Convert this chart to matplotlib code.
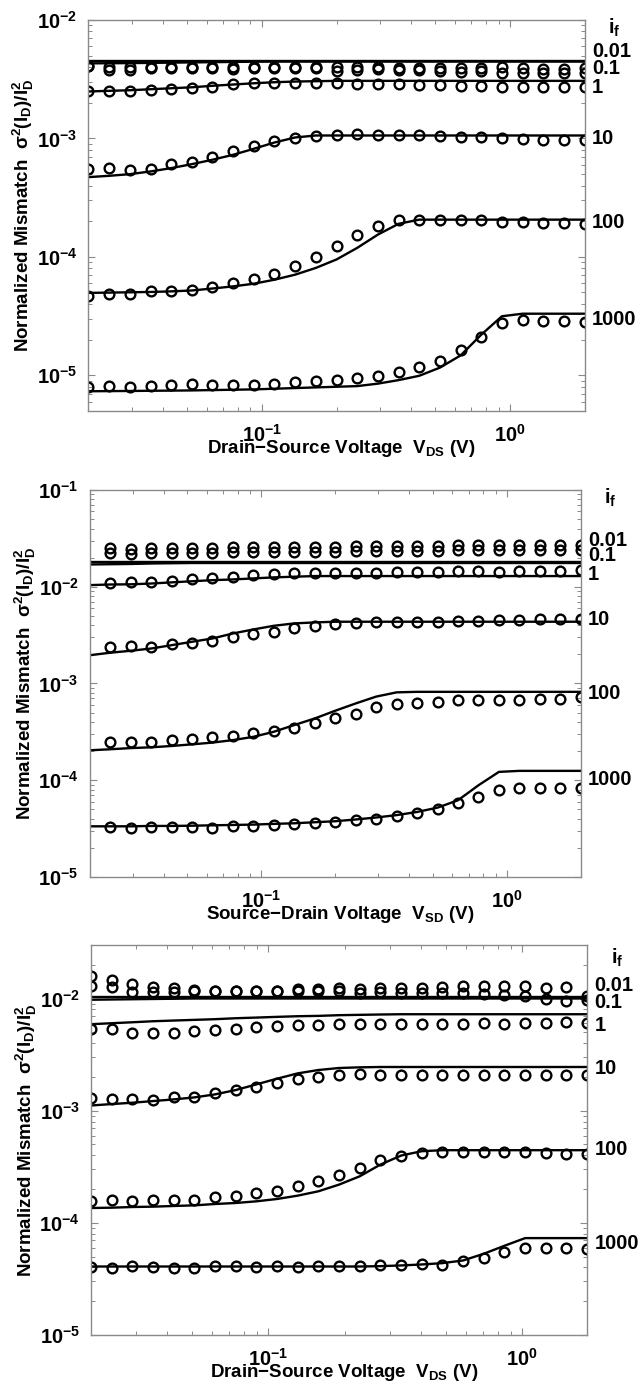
# Normalized drain-current mismatch vs. V_DS / V_SD, three stacked panels.

import matplotlib.pyplot as plt
from matplotlib import ticker
import numpy as np

plt.rcParams['font.family'] = ['Liberation Sans', 'DejaVu Sans']
plt.rcParams['font.weight'] = 'bold'
plt.rcParams['axes.labelweight'] = 'bold'
plt.rcParams['mathtext.default'] = 'regular'

inv_levels = ["0.01", "0.1", "1", "10", "100", "1000"]

# bias points (V), panels 1 and 2
vds = [0.02, 0.0242, 0.0294, 0.0356, 0.0431, 0.0522, 0.0632, 0.0766, 0.0928,
       0.1124, 0.1362, 0.165, 0.2, 0.2423, 0.2935, 0.3557, 0.4309, 0.522,
       0.6325, 0.7663, 0.9283, 1.1247, 1.3626, 1.6508, 2.0]
# bias points (V), panel 3
vds3 = [0.02, 0.0241, 0.0291, 0.0351, 0.0423, 0.0511, 0.0616, 0.0743, 0.0896,
        0.1081, 0.1304, 0.1573, 0.1897, 0.2289, 0.2761, 0.333, 0.4017, 0.4845,
        0.5844, 0.7049, 0.8503, 1.0257, 1.2372, 1.4923, 1.8]

# ---- panel 1 : nMOS, Drain-Source ----
p1_meas_001 = [4.12e-3, 3.99e-3, 3.99e-3, 3.99e-3, 3.99e-3, 4.04e-3, 3.99e-3, 3.99e-3, 3.99e-3,
               3.99e-3, 3.99e-3, 3.99e-3, 3.99e-3, 3.99e-3, 3.99e-3, 3.91e-3, 3.91e-3, 3.91e-3,
               3.91e-3, 3.91e-3, 3.99e-3, 3.91e-3, 3.84e-3, 3.84e-3, 3.91e-3]
p1_meas_01 = [4.07e-3, 3.79e-3, 3.79e-3, 3.91e-3, 3.91e-3, 3.91e-3, 3.91e-3, 3.84e-3, 3.91e-3,
              3.91e-3, 3.91e-3, 3.91e-3, 3.74e-3, 3.79e-3, 3.84e-3, 3.79e-3, 3.79e-3, 3.74e-3,
              3.67e-3, 3.74e-3, 3.59e-3, 3.59e-3, 3.59e-3, 3.55e-3, 3.55e-3]
p1_meas_1 = [2.49e-3, 2.49e-3, 2.49e-3, 2.57e-3, 2.60e-3, 2.65e-3, 2.74e-3, 2.89e-3, 2.92e-3,
             2.92e-3, 2.96e-3, 2.92e-3, 2.92e-3, 2.89e-3, 2.89e-3, 2.87e-3, 2.83e-3, 2.83e-3,
             2.79e-3, 2.78e-3, 2.74e-3, 2.74e-3, 2.70e-3, 2.70e-3, 2.69e-3]
p1_meas_10 = [5.50e-4, 5.61e-4, 5.43e-4, 5.50e-4, 6.07e-4, 6.38e-4, 6.95e-4, 7.76e-4, 8.56e-4,
              9.42e-4, 1.004e-3, 1.052e-3, 1.072e-3, 1.08e-3, 1.065e-3, 1.065e-3, 1.058e-3, 1.052e-3,
              1.037e-3, 1.019e-3, 1.004e-3, 0.986e-3, 0.973e-3, 0.973e-3, 0.960e-3]
p1_meas_100 = [4.65e-5, 4.86e-5, 4.86e-5, 5.11e-5, 5.18e-5, 5.28e-5, 5.53e-5, 6.01e-5, 6.50e-5,
               7.16e-5, 8.32e-5, 9.91e-5, 1.226e-4, 1.537e-4, 1.832e-4, 2.03e-4, 2.06e-4, 2.06e-4,
               2.06e-4, 2.06e-4, 1.95e-4, 1.95e-4, 1.93e-4, 1.92e-4, 1.89e-4]
p1_meas_1000 = [7.98e-6, 8.08e-6, 7.98e-6, 8.18e-6, 8.35e-6, 8.5e-6, 8.35e-6, 8.35e-6, 8.35e-6,
                8.5e-6, 8.8e-6, 8.9e-6, 9.08e-6, 9.5e-6, 9.94e-6, 1.06e-5, 1.18e-5, 1.33e-5,
                1.65e-5, 2.09e-5, 2.77e-5, 2.91e-5, 2.86e-5, 2.86e-5, 2.82e-5]

p1_model_001 = [4.48e-3] * 25
p1_model_01 = [4.30e-3, 4.31e-3, 4.32e-3, 4.34e-3, 4.36e-3, 4.38e-3, 4.40e-3, 4.42e-3, 4.44e-3] + [4.45e-3] * 16
p1_model_1 = [2.49e-3, 2.52e-3, 2.55e-3, 2.60e-3, 2.65e-3, 2.70e-3, 2.78e-3, 2.85e-3, 2.92e-3,
              2.98e-3, 3.02e-3, 3.04e-3] + [3.06e-3] * 13
p1_model_10 = [4.71e-4, 4.83e-4, 4.99e-4, 5.26e-4, 5.61e-4, 6.06e-4, 6.60e-4, 7.27e-4, 8.17e-4,
               9.23e-4, 1.018e-3, 1.058e-3] + [1.058e-3] * 13
p1_model_100 = [4.96e-5, 4.99e-5, 5.02e-5, 5.05e-5, 5.11e-5, 5.2e-5, 5.4e-5, 5.63e-5, 5.93e-5,
                6.41e-5, 7.07e-5, 8.06e-5, 9.5e-5, 1.19e-4, 1.54e-4, 1.9e-4] + [2.06e-4] * 9
p1_model_1000 = [7.33e-6, 7.35e-6, 7.37e-6, 7.40e-6, 7.42e-6, 7.45e-6, 7.50e-6, 7.55e-6, 7.60e-6,
                 7.70e-6, 7.80e-6, 7.90e-6, 8.0e-6, 8.1e-6, 8.5e-6, 9.1e-6, 9.9e-6, 1.16e-5,
                 1.47e-5, 2.2e-5, 3.15e-5] + [3.31e-5] * 4

# ---- panel 2 : pMOS, Source-Drain (measured from the 2nd bias point) ----
p2_meas_001 = [2.492e-2, 2.433e-2, 2.492e-2, 2.492e-2, 2.532e-2, 2.532e-2, 2.593e-2, 2.593e-2,
               2.593e-2, 2.593e-2, 2.593e-2, 2.593e-2, 2.635e-2, 2.635e-2, 2.635e-2, 2.635e-2,
               2.635e-2, 2.677e-2, 2.677e-2, 2.677e-2, 2.70e-2, 2.70e-2, 2.70e-2, 2.72e-2]
p2_meas_01 = [2.212e-2, 2.177e-2, 2.212e-2, 2.212e-2, 2.247e-2, 2.247e-2, 2.302e-2, 2.302e-2,
              2.302e-2, 2.302e-2, 2.302e-2, 2.302e-2, 2.339e-2, 2.339e-2, 2.339e-2, 2.339e-2,
              2.339e-2, 2.376e-2, 2.376e-2, 2.376e-2, 2.395e-2, 2.395e-2, 2.395e-2, 2.414e-2]
p2_meas_1 = [1.10e-2, 1.11e-2, 1.117e-2, 1.145e-2, 1.19e-2, 1.22e-2, 1.27e-2, 1.32e-2, 1.34e-2,
             1.375e-2, 1.375e-2, 1.40e-2, 1.40e-2, 1.40e-2, 1.41e-2, 1.41e-2, 1.43e-2, 1.465e-2,
             1.44e-2, 1.43e-2, 1.465e-2, 1.44e-2, 1.45e-2, 1.49e-2]
p2_meas_10 = [2.36e-3, 2.43e-3, 2.39e-3, 2.55e-3, 2.64e-3, 2.76e-3, 2.99e-3, 3.21e-3, 3.37e-3,
              3.71e-3, 3.92e-3, 4.08e-3, 4.18e-3, 4.28e-3, 4.28e-3, 4.35e-3, 4.35e-3, 4.45e-3,
              4.45e-3, 4.52e-3, 4.52e-3, 4.59e-3, 4.59e-3, 4.59e-3]
p2_meas_100 = [2.49e-4, 2.49e-4, 2.49e-4, 2.60e-4, 2.70e-4, 2.81e-4, 2.88e-4, 3.09e-4, 3.21e-4,
               3.48e-4, 3.86e-4, 4.35e-4, 4.89e-4, 5.65e-4, 6.11e-4, 6.31e-4, 6.46e-4, 6.73e-4,
               6.73e-4, 6.83e-4, 6.83e-4, 6.99e-4, 6.99e-4, 7.17e-4]
p2_meas_1000 = [3.29e-5, 3.24e-5, 3.29e-5, 3.29e-5, 3.29e-5, 3.24e-5, 3.34e-5, 3.37e-5, 3.42e-5,
                3.51e-5, 3.62e-5, 3.71e-5, 3.86e-5, 4.01e-5, 4.24e-5, 4.59e-5, 5.09e-5, 5.83e-5,
                6.73e-5, 7.89e-5, 8.34e-5, 8.34e-5, 8.40e-5, 8.40e-5]

p2_model_001 = [1.82e-2] * 25
p2_model_01 = [1.70e-2, 1.71e-2, 1.72e-2, 1.74e-2, 1.75e-2] + [1.76e-2] * 20
p2_model_1 = [1.04e-2, 1.055e-2, 1.06e-2, 1.08e-2, 1.11e-2, 1.14e-2, 1.17e-2, 1.19e-2, 1.22e-2,
              1.25e-2, 1.27e-2] + [1.29e-2] * 14
p2_model_10 = [1.96e-3, 2.08e-3, 2.18e-3, 2.30e-3, 2.49e-3, 2.70e-3, 2.92e-3, 3.29e-3, 3.62e-3,
               3.95e-3, 4.18e-3, 4.28e-3] + [4.35e-3] * 13
p2_model_100 = [2.04e-4, 2.09e-4, 2.15e-4, 2.19e-4, 2.26e-4, 2.35e-4, 2.45e-4, 2.60e-4, 2.81e-4,
                3.17e-4, 3.72e-4, 4.35e-4, 5.23e-4, 6.22e-4, 7.32e-4, 8.1e-4] + [8.2e-4] * 9
p2_model_1000 = [3.34e-5, 3.34e-5, 3.34e-5, 3.37e-5, 3.37e-5, 3.39e-5, 3.42e-5, 3.45e-5, 3.48e-5,
                 3.54e-5, 3.59e-5, 3.68e-5, 3.77e-5, 3.93e-5, 4.12e-5, 4.36e-5, 4.70e-5, 5.21e-5,
                 6.21e-5, 8.87e-5, 1.22e-4] + [1.25e-4] * 4

# ---- panel 3 : nMOS, Drain-Source ----
p3_meas_001 = [1.573e-2, 1.468e-2, 1.343e-2, 1.254e-2, 1.228e-2, 1.195e-2, 1.171e-2, 1.171e-2,
               1.171e-2, 1.171e-2, 1.212e-2, 1.212e-2, 1.228e-2, 1.212e-2, 1.228e-2, 1.228e-2,
               1.228e-2, 1.254e-2, 1.280e-2, 1.298e-2, 1.298e-2, 1.280e-2, 1.228e-2, 1.254e-2, 1.056e-2]
p3_meas_01 = [1.298e-2, 1.254e-2, 1.147e-2, 1.147e-2, 1.147e-2, 1.163e-2, 1.155e-2, 1.155e-2,
              1.155e-2, 1.155e-2, 1.171e-2, 1.171e-2, 1.155e-2, 1.131e-2, 1.147e-2, 1.131e-2,
              1.131e-2, 1.131e-2, 1.116e-2, 1.093e-2, 1.071e-2, 1.042e-2, 0.986e-2, 0.953e-2, 0.973e-2]
p3_meas_1 = [5.32e-3, 5.32e-3, 4.90e-3, 4.90e-3, 4.97e-3, 5.14e-3, 5.25e-3, 5.39e-3, 5.62e-3,
             5.70e-3, 5.78e-3, 5.86e-3, 5.98e-3, 5.98e-3, 5.98e-3, 5.98e-3, 5.98e-3, 5.98e-3,
             5.98e-3, 6.02e-3, 5.98e-3, 6.02e-3, 6.10e-3, 6.15e-3, 6.02e-3]
p3_meas_10 = [1.304e-3, 1.277e-3, 1.260e-3, 1.243e-3, 1.331e-3, 1.331e-3, 1.445e-3, 1.516e-3,
              1.635e-3, 1.751e-3, 1.902e-3, 2.01e-3, 2.065e-3, 2.108e-3, 2.065e-3, 2.079e-3,
              2.079e-3, 2.065e-3, 2.079e-3, 2.079e-3, 2.065e-3, 2.079e-3, 2.079e-3, 2.079e-3, 2.065e-3]
p3_meas_100 = [1.555e-4, 1.609e-4, 1.577e-4, 1.588e-4, 1.609e-4, 1.609e-4, 1.70e-4, 1.748e-4,
               1.846e-4, 1.911e-4, 2.118e-4, 2.348e-4, 2.692e-4, 3.089e-4, 3.665e-4, 3.98e-4,
               4.205e-4, 4.263e-4, 4.263e-4, 4.263e-4, 4.263e-4, 4.263e-4, 4.205e-4, 4.148e-4, 4.12e-4]
p3_meas_1000 = [4.027e-5, 3.944e-5, 4.083e-5, 4.027e-5, 3.944e-5, 3.944e-5, 4.083e-5, 4.140e-5,
                4.027e-5, 4.083e-5, 4.027e-5, 4.083e-5, 4.083e-5, 4.083e-5, 4.169e-5, 4.226e-5,
                4.313e-5, 4.226e-5, 4.525e-5, 4.845e-5, 5.446e-5, 5.953e-5, 5.953e-5, 5.953e-5, 5.872e-5]

p3_model_001 = [1.035e-2] * 25
p3_model_01 = [0.975e-2, 0.98e-2, 0.985e-2, 0.99e-2, 0.995e-2] + [1.0e-2] * 20
p3_model_1 = [5.90e-3, 6.02e-3, 6.14e-3, 6.27e-3, 6.36e-3, 6.45e-3, 6.54e-3, 6.67e-3, 6.76e-3,
              6.86e-3, 6.95e-3, 7.00e-3, 7.10e-3, 7.15e-3, 7.20e-3] + [7.24e-3] * 10
p3_model_10 = [1.112e-3, 1.145e-3, 1.177e-3, 1.218e-3, 1.260e-3, 1.313e-3, 1.397e-3, 1.527e-3,
               1.715e-3, 1.928e-3, 2.151e-3, 2.304e-3, 2.401e-3, 2.434e-3] + [2.451e-3] * 11
p3_model_100 = [1.356e-4, 1.365e-4, 1.384e-4, 1.394e-4, 1.413e-4, 1.432e-4, 1.472e-4, 1.503e-4,
                1.555e-4, 1.632e-4, 1.748e-4, 1.911e-4, 2.192e-4, 2.601e-4, 3.308e-4, 3.98e-4,
                4.352e-4] + [4.442e-4] * 8
p3_model_1000 = [4.08e-5] * 14 + [4.11e-5, 4.17e-5, 4.255e-5, 4.373e-5, 4.619e-5, 5.30e-5,
                                   6.245e-5] + [7.31e-5] * 4


def _draw_panel(ax, x_line, models, x_meas, meas, ylim, xlim, xlabel, label_y, if_y):
    for y in models:
        ax.plot(x_line, y, color='black', lw=1.7, solid_joinstyle='round')
    for y in meas:
        ax.plot(x_meas, y, 'o', mfc='none', mec='black', ms=7, mew=1.7)

    ax.set_xscale('log')
    ax.set_yscale('log')
    ax.set_xlim(*xlim)
    ax.set_ylim(*ylim)

    ax.yaxis.set_major_locator(ticker.LogLocator(base=10))
    ax.yaxis.set_minor_locator(ticker.LogLocator(base=10, subs=np.arange(2, 10)))
    ax.yaxis.set_minor_formatter(ticker.NullFormatter())
    ax.xaxis.set_minor_formatter(ticker.NullFormatter())

    for s in ax.spines.values():
        s.set_color('#8a8a8a')
        s.set_linewidth(1.0)
    ax.tick_params(which='both', direction='in', top=True, right=True,
                   color='#8a8a8a', labelsize=14.5)
    ax.tick_params(which='major', length=5, width=0.8)
    ax.tick_params(which='minor', length=3, width=0.7)
    ax.tick_params(axis='x', pad=9)
    ax.tick_params(axis='y', pad=8)

    ax.set_ylabel(r"Normalized Mismatch  $\sigma^{2}$(I$_{D}$)/I$_{D}^{2}$", fontsize=13.5)
    ax.yaxis.set_label_coords(-0.105, 0.5)
    ax.set_xlabel(xlabel, fontsize=13.5)
    ax.xaxis.set_label_coords(0.51, -0.07)

    tr = ax.get_yaxis_transform()
    for lab, yy in zip(inv_levels, label_y):
        ax.text(1.015, yy, lab, transform=tr, ha='left', va='center', fontsize=14.5)
    ax.text(1.06, if_y, "i$_{f}$", transform=tr, ha='center', va='center', fontsize=14.5)


fig = plt.figure(figsize=(6.41, 13.85), dpi=100)

ax1 = fig.add_axes([0.138, 0.7033, 0.774, 0.2823])
_draw_panel(ax1, vds,
            [p1_model_001, p1_model_01, p1_model_1, p1_model_10, p1_model_100, p1_model_1000],
            vds,
            [p1_meas_001, p1_meas_01, p1_meas_1, p1_meas_10, p1_meas_100, p1_meas_1000],
            (5e-6, 1e-2), (0.02, 2.0),
            "Drain\u2212Source Voltage  V$_{DS}$ (V)",
            [5.4e-3, 3.9e-3, 2.7e-3, 9.9e-4, 1.95e-4, 2.98e-5], 8.6e-3)

ax2 = fig.add_axes([0.140, 0.3668, 0.766, 0.2794])
_draw_panel(ax2, vds,
            [p2_model_001, p2_model_01, p2_model_1, p2_model_10, p2_model_100, p2_model_1000],
            vds[1:],
            [p2_meas_001, p2_meas_01, p2_meas_1, p2_meas_10, p2_meas_100, p2_meas_1000],
            (1e-5, 1e-1), (0.02, 2.0),
            "Source\u2212Drain Voltage  V$_{SD}$ (V)",
            [3.04e-2, 2.08e-2, 1.35e-2, 4.59e-3, 7.9e-4, 1.02e-4], 8.3e-2)

ax3 = fig.add_axes([0.142, 0.0361, 0.774, 0.2816])
_draw_panel(ax3, vds3,
            [p3_model_001, p3_model_01, p3_model_1, p3_model_10, p3_model_100, p3_model_1000],
            vds3,
            [p3_meas_001, p3_meas_01, p3_meas_1, p3_meas_10, p3_meas_100, p3_meas_1000],
            (1e-5, 3e-2), (0.02, 1.8),
            "Drain\u2212Source Voltage  V$_{DS}$ (V)",
            [1.315e-2, 9.2e-3, 5.78e-3, 2.37e-3, 4.51e-4, 6.6e-5], 2.3e-2)

fig.savefig("out.png", dpi=100)
